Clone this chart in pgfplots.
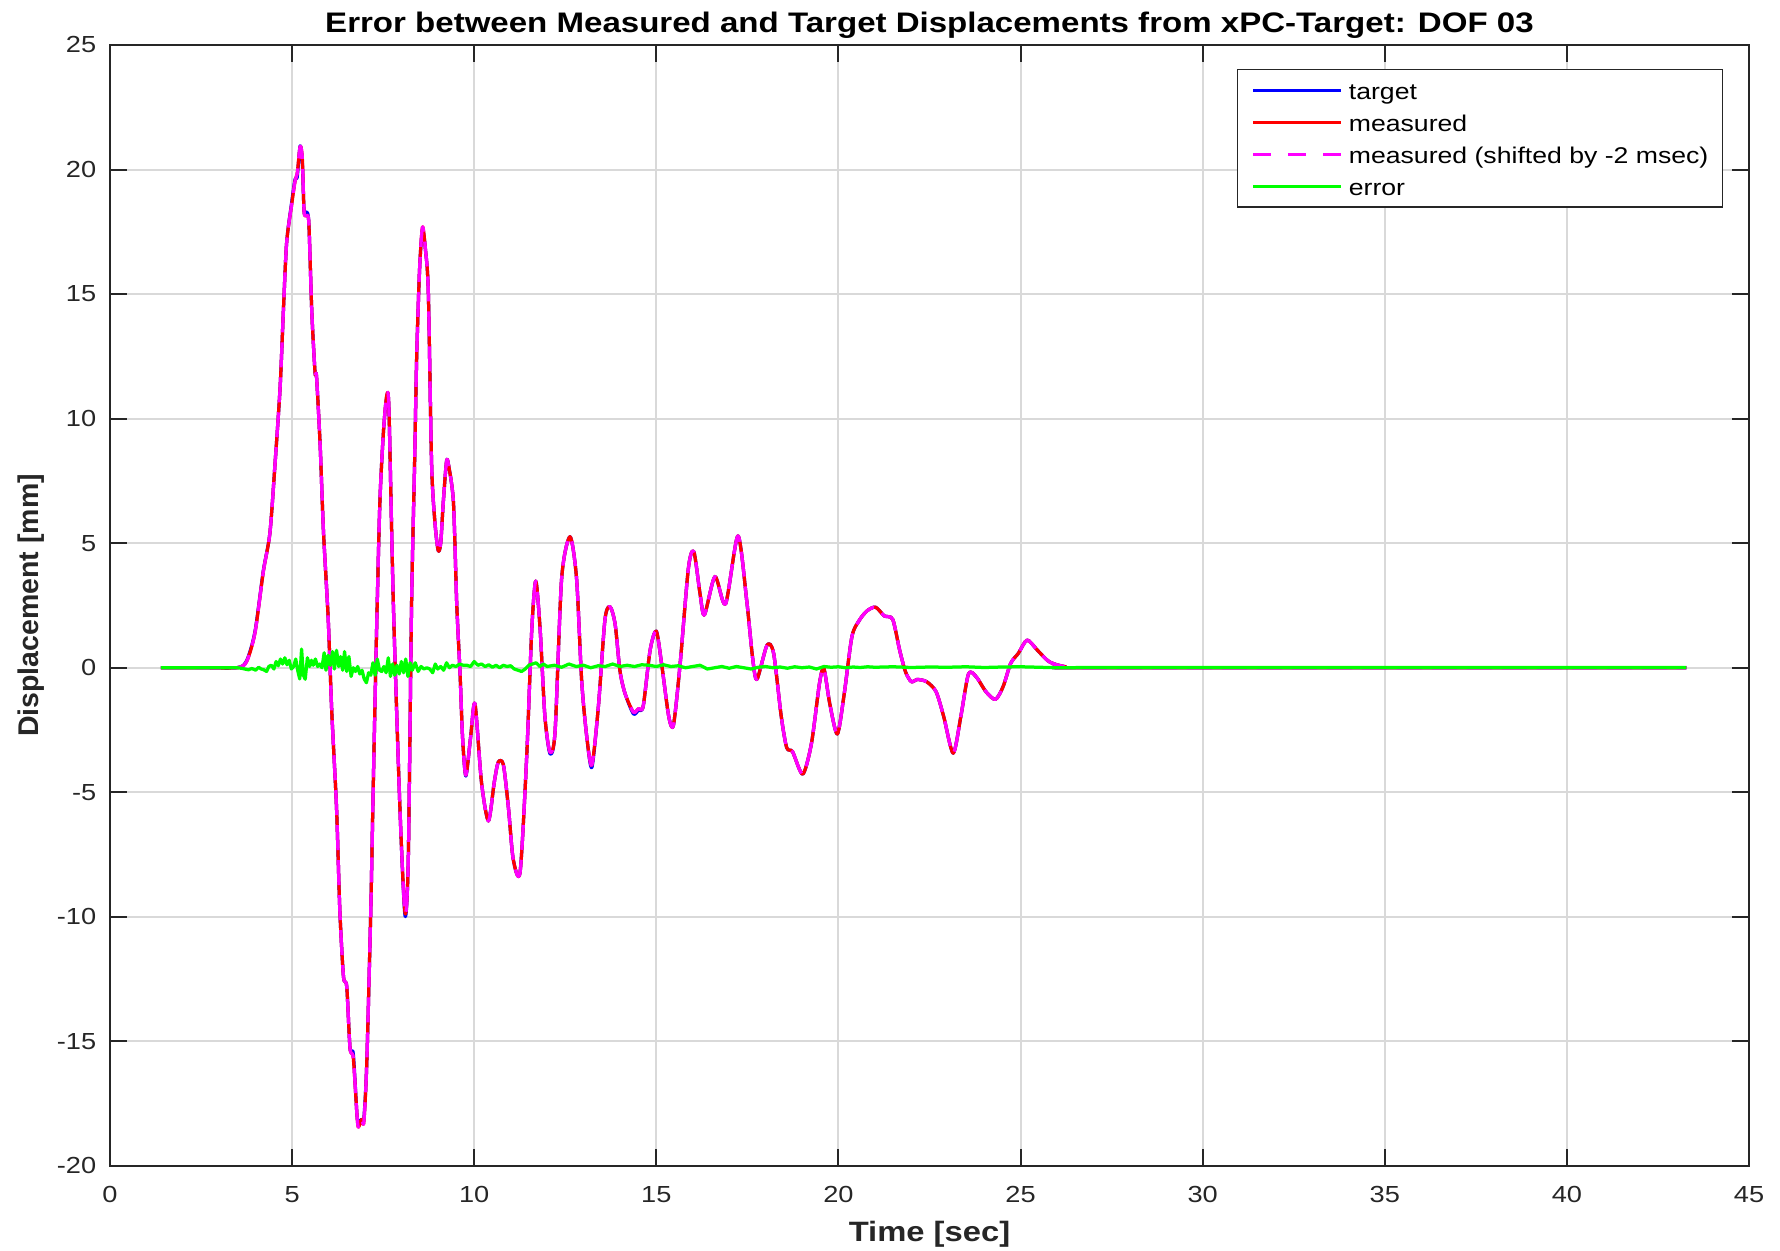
\documentclass[border=0pt]{standalone}
\usepackage{fontspec}
\setmainfont{Liberation Sans}[FakeStretch=1.17]
\newfontfamily\plainfont{Liberation Sans}
\usepackage{pgfplots}
\usepackage{pgfplotstable}
\pgfplotsset{compat=1.18}
\definecolor{gridc}{RGB}{217,217,217}
\definecolor{axc}{RGB}{38,38,38}
\definecolor{mag}{RGB}{255,0,255}
\definecolor{grn}{RGB}{0,255,0}

\pgfplotstableread{
t y yt
1.40 0 0
2.50 0 0
3.48 0 0
3.75 0.25 0.28
3.98 1.40 1.45
4.21 3.86 3.9
4.39 5.40 5.4
4.53 8.16 8.16
4.67 11.24 11.24
4.76 14.31 14.31
4.85 17.07 17.07
4.99 18.61 18.7
5.08 19.53 19.6
5.14 19.84 19.7
5.22 20.92 20.95
5.28 20.46 20.3
5.33 18.30 18.3
5.40 18.15 18.3
5.46 17.84 17.84
5.54 14.31 14.31
5.63 11.85 11.85
5.67 11.70 11.70
5.77 8.93 8.93
5.86 5.5 5.5
5.99 2.0 2.0
6.09 -1.8 -1.8
6.22 -5.63 -5.63
6.31 -9.73 -9.73
6.41 -12.39 -12.39
6.50 -12.80 -12.80
6.59 -15.27 -15.27
6.68 -15.67 -15.5
6.78 -17.93 -17.93
6.82 -18.44 -18.2
6.91 -18.13 -18.13
6.97 -18.23 -18.1
7.05 -15.87 -15.87
7.16 -9.73 -9.73
7.23 -4.61 -4.61
7.32 1.53 1.53
7.41 6.65 6.65
7.51 9.52 9.52
7.60 10.95 10.9
7.66 10.3 10.3
7.78 2.56 2.56
7.96 -5.63 -5.63
8.10 -9.84 -9.95
8.19 -7.68 -7.68
8.28 2.56 2.56
8.36 8.0 8.0
8.42 12.46 12.46
8.50 16.0 16.0
8.58 17.69 17.6
8.66 16.8 16.8
8.74 15.08 15.08
8.83 8.16 8.16
8.92 5.86 5.86
9.01 4.71 4.71
9.08 5.0 5.0
9.15 6.63 6.63
9.24 8.29 8.29
9.30 8.1 8.1
9.43 6.63 6.63
9.52 2.56 2.56
9.61 -0.2 -0.2
9.68 -2.8 -2.8
9.77 -4.31 -4.35
9.90 -2.8 -2.8
10.02 -1.44 -1.44
10.20 -4.61 -4.61
10.39 -6.15 -6.15
10.55 -4.6 -4.6
10.66 -3.79 -3.79
10.80 -3.89 -3.89
10.94 -5.63 -5.63
11.07 -7.68 -7.68
11.26 -8.20 -8.20
11.44 -3.59 -3.59
11.58 1.53 1.53
11.69 3.48 3.48
11.81 1.53 1.53
11.94 -1.94 -1.94
12.08 -3.38 -3.45
12.22 -2.56 -2.56
12.40 3.58 3.58
12.63 5.26 5.26
12.81 3.58 3.58
12.95 -0.52 -0.52
13.09 -2.77 -2.77
13.23 -3.90 -4.0
13.41 -1.54 -1.54
13.59 1.94 1.94
13.73 2.45 2.45
13.87 1.74 1.74
14.00 -0.11 -0.11
14.14 -1.03 -1.03
14.37 -1.78 -1.85
14.51 -1.64 -1.70
14.64 -1.54 -1.54
14.83 0.71 0.71
15.00 1.47 1.47
15.15 0.10 0.10
15.34 -1.95 -1.95
15.47 -2.30 -2.30
15.65 0.10 0.10
15.88 3.99 3.99
16.03 4.66 4.66
16.20 2.97 2.97
16.32 2.12 2.12
16.61 3.66 3.66
16.90 2.56 2.56
17.24 5.29 5.29
17.48 2.72 2.72
17.64 0.44 0.44
17.76 -0.47 -0.47
18.04 0.91 0.91
18.22 0.58 0.58
18.43 -1.96 -1.96
18.58 -3.21 -3.21
18.74 -3.37 -3.37
19.02 -4.27 -4.27
19.26 -3.03 -3.03
19.48 -0.62 -0.62
19.60 -0.02 -0.02
19.76 -1.43 -1.43
19.97 -2.66 -2.66
20.16 -1.03 -1.03
20.37 1.25 1.25
20.58 1.92 1.92
20.79 2.29 2.29
21.02 2.43 2.43
21.26 2.08 2.08
21.49 1.94 1.94
21.68 0.71 0.71
21.84 -0.16 -0.16
22.00 -0.56 -0.56
22.16 -0.47 -0.47
22.42 -0.56 -0.56
22.68 -0.96 -0.96
22.89 -1.96 -1.96
23.15 -3.43 -3.43
23.36 -1.96 -1.96
23.57 -0.25 -0.25
23.78 -0.36 -0.36
24.05 -0.96 -0.96
24.31 -1.27 -1.27
24.52 -0.76 -0.76
24.73 0.18 0.18
24.94 0.58 0.58
25.18 1.11 1.11
25.46 0.71 0.71
25.79 0.24 0.24
26.24 0.04 0.04
27.00 0 0
43.28 0 0
}\sig

\pgfplotstableread{
t e
1.40 0
3.50 0
3.60 -0.02
3.70 -0.05
3.80 -0.08
3.90 -0.03
4.00 -0.10
4.08 0.02
4.15 -0.05
4.22 -0.08
4.30 -0.15
4.36 0.05
4.43 0.10
4.50 -0.05
4.56 0.25
4.62 0.08
4.68 0.35
4.74 0.15
4.80 0.40
4.86 0.12
4.92 0.30
4.98 -0.05
5.04 0.05
5.10 0.35
5.16 -0.15
5.21 -0.45
5.26 0.75
5.31 -0.30
5.36 -0.46
5.42 0.40
5.48 0.05
5.53 0.30
5.58 0.10
5.64 0.35
5.70 0.05
5.76 0.15
5.82 0.00
5.88 0.60
5.93 -0.10
5.99 0.50
6.05 0.10
6.11 0.65
6.16 -0.05
6.22 0.70
6.28 0.05
6.33 0.45
6.39 -0.10
6.44 0.65
6.50 -0.15
6.56 0.45
6.62 -0.35
6.68 0.00
6.74 -0.15
6.80 0.05
6.86 -0.25
6.92 -0.10
6.98 -0.45
7.04 -0.60
7.10 -0.20
7.16 -0.30
7.22 0.20
7.28 -0.30
7.34 0.35
7.40 -0.10
7.46 -0.15
7.52 0.05
7.58 -0.20
7.64 0.40
7.70 -0.35
7.76 0.15
7.82 -0.30
7.88 0.10
7.94 -0.25
8.00 0.25
8.06 -0.20
8.12 0.35
8.18 -0.35
8.24 0.20
8.30 -0.10
8.38 0.20
8.46 -0.15
8.54 0.05
8.62 -0.05
8.70 0.00
8.78 -0.05
8.86 -0.20
8.93 0.15
9.00 -0.05
9.08 0.05
9.16 -0.10
9.24 0.20
9.32 0.00
9.40 0.10
9.50 0.05
9.60 0.15
9.70 0.10
9.80 0.10
9.90 0.05
10.00 0.25
10.10 0.10
10.20 0.15
10.30 0.05
10.40 0.12
10.50 0.02
10.60 0.10
10.70 0.00
10.80 0.10
10.90 0.05
11.00 0.08
11.10 -0.05
11.20 -0.10
11.30 -0.15
11.40 -0.05
11.50 0.10
11.60 0.15
11.70 0.20
11.80 0.05
11.90 0.15
12.00 0.05
12.20 0.10
12.40 0.02
12.60 0.15
12.80 0.05
13.00 0.10
13.20 0.00
13.40 0.08
13.60 0.05
13.80 0.15
14.00 0.05
14.20 0.10
14.40 0.05
14.60 0.12
14.80 0.10
15.00 0.05
15.20 0.12
15.40 0.05
15.60 0.08
15.80 0.00
16.00 0.05
16.20 0.10
16.40 -0.05
16.60 0.00
16.80 0.05
17.00 -0.02
17.20 0.05
17.40 0.00
17.60 -0.05
17.80 0.02
18.00 0.05
18.20 0.00
18.40 0.03
18.60 -0.02
18.80 0.04
19.00 0.00
19.20 0.03
19.40 -0.05
19.60 0.05
19.80 0.02
20.00 0.04
20.20 0.00
20.40 0.03
20.60 0.01
20.80 0.04
21.00 0.02
21.50 0.04
22.00 0.01
22.50 0.03
23.00 0.02
23.50 0.04
24.00 0.01
24.50 0.03
25.00 0.04
25.50 0.02
26.00 0.00
27.00 0.01
43.28 0.01
}\err

\begin{document}
\begin{tikzpicture}
\begin{axis}[
  scale only axis,
  width=655.6pt, height=448.4pt,
  xmin=0, xmax=45, ymin=-20, ymax=25,
  enlargelimits=false,
  xtick={0,5,10,15,20,25,30,35,40,45},
  xticklabels={0,5,10,15,20,25,30,35,40,45},
  ytick={-20,-15,-10,-5,0,5,10,15,20,25},
  yticklabels={-20,-15,-10,-5,0,5,10,15,20,25},
  grid=major,
  major grid style={color=gridc, line width=0.8pt},
  axis line style={color=axc, line width=0.8pt},
  tick style={color=axc, line width=0.8pt},
  tick align=inside,
  major tick length=6.7pt,
  tick label style={font=\fontsize{9.3}{11}\selectfont, text=axc, inner sep=0pt},
  xticklabel style={anchor=north, yshift=-8pt},
  yticklabel style={anchor=east, xshift=-5.3pt},
  every axis title shift=0pt,
  title={Error between Measured and Target Displacements from xPC-Target: DOF 03},
  title style={at={(axis description cs:0.5,1.0107)}, anchor=base, font=\bfseries\fontsize{11.3}{13}\selectfont, inner sep=0pt},
  xlabel={Time [sec]},
  xlabel style={at={(axis description cs:0.5,-0.0676)}, anchor=base, font=\bfseries\fontsize{11.2}{13}\selectfont, text=axc, inner sep=0pt},
  ylabel={Displacement [mm]},
  ylabel style={at={(axis description cs:-0.0482,0.5)}, anchor=center, rotate=0, font=\plainfont\bfseries\fontsize{11.4}{13}\selectfont, text=axc, inner sep=0pt},
  legend style={
    at={(rel axis cs:1,1)}, anchor=north east, xshift=-10.4pt, yshift=-9.6pt,
    draw=axc, line width=0.5pt, fill=white,
    font=\fontsize{9.1}{11}\selectfont,
    inner xsep=5.6pt, inner ysep=1.9pt,
    row sep=0pt,
    nodes={inner xsep=0pt, inner ysep=0pt, text height=10.1pt, text depth=2.7pt},
    /tikz/every odd column/.append style={column sep=2.6pt},
  },
  legend cell align=left,
  legend image code/.code={\draw[#1] (0pt,0pt) -- (35pt,0pt);},
]
\addplot[color=blue, line width=1.3pt, line join=round, smooth, tension=0.45] table[x=t, y=yt] {\sig};
\addlegendentry{target}
\addplot[color=red, line width=1.3pt, line join=round, smooth, tension=0.45] table[x=t, y=y] {\sig};
\addlegendentry{measured}
\addplot[color=mag, line width=1.3pt, line join=round, dash pattern=on 10pt off 4pt, smooth, tension=0.45, forget plot] table[x=t, y=y] {\sig};
\addlegendimage{color=mag, line width=1.3pt, dash pattern=on 7pt off 7pt}
\addlegendentry{measured (shifted by -2 msec)}
\addplot[color=grn, line width=1.3pt, line join=round] table[x=t, y=e] {\err};
\addlegendentry{error}
\coordinate (ll) at (rel axis cs:0,0);
\coordinate (ur) at (rel axis cs:1,1);
\end{axis}
\pgfresetboundingbox
\path[use as bounding box] ([shift={(-44pt,-34pt)}]ll) rectangle ([shift={(12.4pt,18pt)}]ur);
\end{tikzpicture}
\end{document}
